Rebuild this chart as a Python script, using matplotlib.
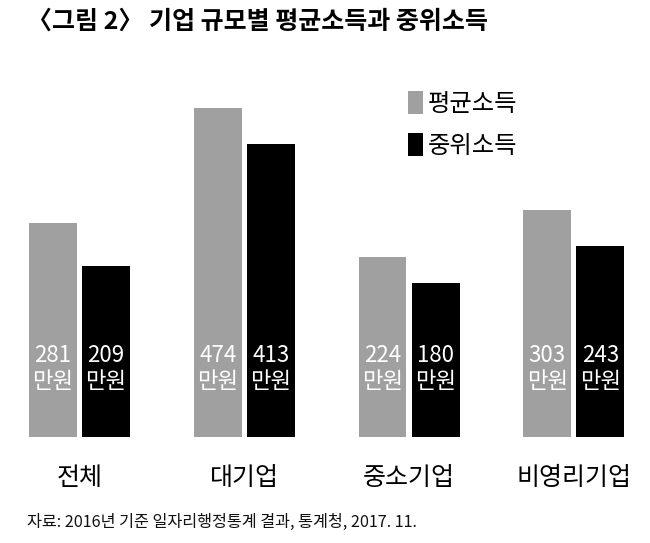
import matplotlib
matplotlib.use("Agg")
import matplotlib.pyplot as plt
import numpy as np

plt.rcParams['font.family'] = ['Noto Sans CJK KR', 'DejaVu Sans']

# 기업 규모별 평균소득 / 중위소득 (만원)
categories = ['전체', '대기업', '중소기업', '비영리기업']
mean_income = [281, 474, 224, 303]
median_income = [209, 413, 180, 243]
series_names = ['평균소득', '중위소득']
title = '〈그림 2〉 기업 규모별 평균소득과 중위소득'
source = '자료: 2016년 기준 일자리행정통계 결과, 통계청, 2017. 11.'

W, H = 650, 543
fig = plt.figure(figsize=(W / 100, H / 100), dpi=100)

# axes in pixel terms: bottom of bars at y=437, top at y=60
ax = fig.add_axes([0, (H - 437) / H, 1, (437 - 60) / H])
floor = -77
ax.set_ylim(floor, 553.5)
ax.set_xlim(-0.482, 3.462)
ax.axis('off')

x = np.arange(len(categories))
bw = 0.291
off = 0.161
gray = '#a0a0a0'
mean_v = np.array(mean_income)
med_v = np.array(median_income)
ax.bar(x - off, mean_v - floor, bottom=floor, width=bw, color=gray, label=series_names[0])
ax.bar(x + off, med_v - floor, bottom=floor, width=bw, color='black', label=series_names[1])

tr = ax.get_xaxis_transform()
for i in range(len(categories)):
    for xx, v in [(x[i] - off, mean_income[i]), (x[i] + off, median_income[i])]:
        ax.text(xx, (437 - 355) / 377, str(v), transform=tr, ha='center', va='center',
                color='white', fontsize=16, fontweight='light')
        ax.text(xx, (437 - 382) / 377, '만원', transform=tr, ha='center', va='center',
                color='white', fontsize=16, fontweight='light')
    ax.text(x[i], (437 - 478) / 377, categories[i], transform=tr, ha='center', va='center',
            color='black', fontsize=18)

leg = ax.legend(loc='upper left', bbox_to_anchor=(408 / W, 1 - 91 / H),
                bbox_transform=fig.transFigure, frameon=False, fontsize=17.5,
                handlelength=0.6, handleheight=1.05, handletextpad=0.2,
                labelspacing=0.65, borderpad=0, borderaxespad=0)

fig.text(27 / W, 1 - 22 / H, title, ha='left', va='center', fontsize=18,
         fontweight='bold')
fig.text(27 / W, 1 - 522 / H, source, ha='left', va='center', fontsize=11.7,
         color='#111111')

fig.savefig('out.png', dpi=100)
